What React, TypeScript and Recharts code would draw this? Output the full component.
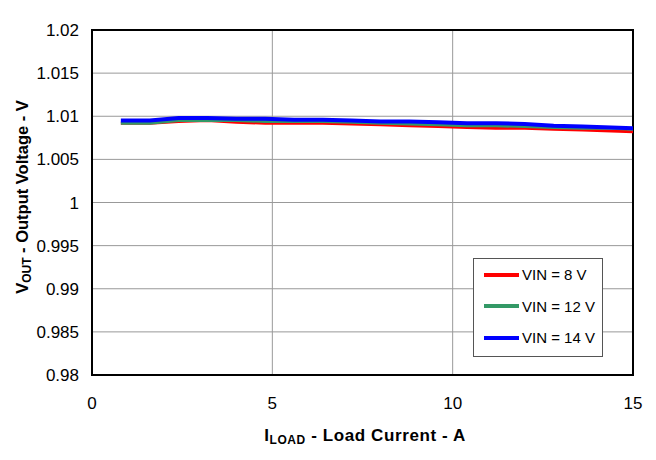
import { LineChart, Line, XAxis, YAxis, CartesianGrid, ReferenceArea } from 'recharts';

const loadCurrent = [0.8, 1.6, 2.4, 3.2, 4.0, 4.8, 5.6, 6.4, 7.2, 8.0, 8.8, 9.6, 10.4, 11.2, 12.0, 12.8, 13.6, 14.4, 15.0];
const vin8 = [1.0092, 1.0092, 1.0094, 1.0095, 1.0093, 1.0092, 1.0092, 1.0092, 1.0091, 1.0090, 1.0089, 1.0088, 1.0087, 1.0086, 1.0086, 1.0085, 1.0084, 1.0083, 1.0082];
const vin12 = [1.0092, 1.0092, 1.0095, 1.0095, 1.0095, 1.0094, 1.0094, 1.0094, 1.0093, 1.0092, 1.0091, 1.0090, 1.0089, 1.0089, 1.0088, 1.0087, 1.0086, 1.0086, 1.0085];
const vin14 = [1.0095, 1.0095, 1.0098, 1.0098, 1.0097, 1.0097, 1.0096, 1.0096, 1.0095, 1.0094, 1.0094, 1.0093, 1.0092, 1.0092, 1.0091, 1.0089, 1.0088, 1.0087, 1.0086];

const xTicks = [0, 5, 10, 15];
const yTicks = [0.98, 0.985, 0.99, 0.995, 1, 1.005, 1.01, 1.015, 1.02];

const seriesNames = ['VIN = 8 V', 'VIN = 12 V', 'VIN = 14 V'];
const seriesColors = ['#ff0000', '#339966', '#0000ff'];

const data = loadCurrent.map((x, i) => ({ x, v8: vin8[i], v12: vin12[i], v14: vin14[i] }));

const font = 'Liberation Sans, Arial, sans-serif';

// legend + axis titles drawn on top so they don't eat plot space
const Overlay = () => (
  <>
    <svg width={656} height={460} style={{ position: 'absolute', left: 0, top: 0, pointerEvents: 'none' }}>
      <text x={365} y={441} textAnchor="middle" fontFamily={font} fontWeight="bold" fontSize={17} letterSpacing={0.6} fill="#000">
        I<tspan fontSize={12} dy={3}>LOAD</tspan>
        <tspan dy={-3}> - Load Current - A</tspan>
      </text>
      <text
        transform="translate(28,197) rotate(-90)"
        textAnchor="middle"
        fontFamily={font}
        fontWeight="bold"
        fontSize={16.5}
        fill="#000"
      >
        V<tspan fontSize={12} dy={3}>OUT</tspan>
        <tspan dy={-3}> - Output Voltage - V</tspan>
      </text>
    </svg>
    <div
      style={{
        position: 'absolute',
        left: 473,
        top: 258,
        width: 130,
        height: 99,
        border: '1px solid #555',
        background: '#fff',
        boxSizing: 'border-box',
        padding: '0 0 0 10px',
        fontFamily: font,
        fontSize: 15,
      }}
    >
      {seriesNames.map((n, i) => (
        <div key={n} style={{ display: 'flex', alignItems: 'center', height: 31.5 }}>
          <div style={{ width: 35, height: 4, background: seriesColors[i], marginRight: 3 }} />
          <span>{n}</span>
        </div>
      ))}
    </div>
  </>
);

export default function App() {
  return (
    <div style={{ position: 'absolute', left: 0, top: 0, width: 656, height: 460, background: '#fff' }}>
      <LineChart width={656} height={460} data={data} margin={{ top: 30, right: 23, left: 0, bottom: 0 }}>
        <CartesianGrid stroke="#999" strokeWidth={1} />
        <XAxis
          dataKey="x"
          type="number"
          domain={[0, 15]}
          ticks={xTicks}
          height={85}
          axisLine={false}
          tickLine={false}
          tickSize={0}
          tickMargin={22}
          tick={{ fill: '#000', fontSize: 17, fontFamily: font }}
        />
        <YAxis
          type="number"
          domain={[0.98, 1.02]}
          ticks={yTicks}
          width={92}
          axisLine={false}
          tickLine={false}
          tickSize={0}
          tickMargin={13}
          tickFormatter={(v: number) => String(parseFloat(v.toFixed(3)))}
          tick={{ fill: '#000', fontSize: 17, fontFamily: font }}
        />
        <ReferenceArea x1={0} x2={15} y1={0.98} y2={1.02} fill="none" stroke="#000" strokeWidth={2} ifOverflow="visible" />
        <Line dataKey="v8" stroke={seriesColors[0]} strokeWidth={3} dot={false} type="linear" isAnimationActive={false} />
        <Line dataKey="v12" stroke={seriesColors[1]} strokeWidth={3} dot={false} type="linear" isAnimationActive={false} />
        <Line dataKey="v14" stroke={seriesColors[2]} strokeWidth={4} dot={false} type="linear" isAnimationActive={false} />
      </LineChart>
      <Overlay />
    </div>
  );
}
